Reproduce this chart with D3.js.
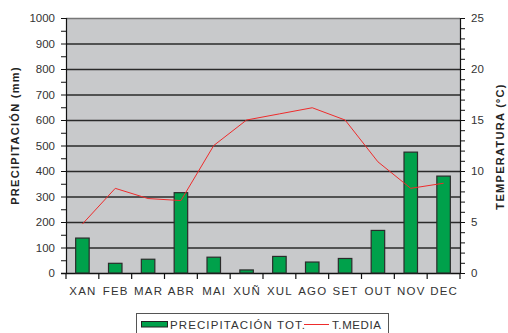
<!DOCTYPE html>
<html>
<head>
<meta charset="utf-8">
<script src="https://cdn.jsdelivr.net/npm/d3@7/dist/d3.min.js"></script>
<style>
  html, body { margin: 0; padding: 0; background: #fff; }
  svg { display: block; font-family: Arial, "Liberation Sans", sans-serif; }
</style>
</head>
<body>
<svg id="chart" width="508" height="333"></svg>
<script>
// Monthly climate data
const months = ["XAN","FEB","MAR","ABR","MAI","XUÑ","XUL","AGO","SET","OUT","NOV","DEC"];
const precipitation = [137, 38, 54, 315, 62, 12, 65, 43, 57, 167, 474, 380];
const temperature = [4.8, 8.3, 7.3, 7.1, 12.5, 15.0, 15.6, 16.2, 15.0, 10.9, 8.3, 8.8];
const precipTicks = [0,100,200,300,400,500,600,700,800,900,1000];
const tempTicks = [0,5,10,15,20,25];

(function () {
const svg = d3.select("#chart");
const mLeft = 66, mRight = 460, mTop = 18, mBottom = 273;

const x = d3.scaleBand().domain(months).range([mLeft, mRight]).paddingInner(0).paddingOuter(0);
const yP = d3.scaleLinear().domain([0, 1000]).range([mBottom, mTop]);
const yT = d3.scaleLinear().domain([0, 25]).range([mBottom, mTop]);

// plot background
svg.append("rect")
  .attr("x", mLeft).attr("y", mTop)
  .attr("width", mRight - mLeft).attr("height", mBottom - mTop)
  .attr("fill", "#c8c9cb");

// horizontal gridlines
svg.append("g").selectAll("line")
  .data(precipTicks.filter(d => d > 0))
  .join("line")
  .attr("x1", mLeft).attr("x2", mRight)
  .attr("y1", d => yP(d) + 0.5).attr("y2", d => yP(d) + 0.5)
  .attr("stroke", d => d === 1000 ? "#777" : "#2a2a2a")
  .attr("stroke-width", 1.3);

// left axis
const axL = svg.append("g").attr("transform", `translate(${mLeft},0)`)
  .call(d3.axisLeft(yP).tickValues(d3.range(0, 1001, 50)).tickSize(5).tickFormat(d => d % 100 === 0 ? d : ""));
axL.select(".domain").attr("stroke", "#111").attr("stroke-width", 1.2);
axL.selectAll(".tick line").attr("stroke", "#111");
axL.selectAll("text").attr("fill", "#333").attr("font-size", 11.5).attr("dx", "-3");

// right axis
const axR = svg.append("g").attr("transform", `translate(${mRight},0)`)
  .call(d3.axisRight(yT).tickValues(d3.range(0, 26, 1)).tickSize(5).tickFormat(d => tempTicks.includes(d) ? d : ""));
axR.select(".domain").attr("stroke", "#111").attr("stroke-width", 1.2);
axR.selectAll(".tick line").attr("stroke", "#111");
axR.selectAll("text").attr("fill", "#333").attr("font-size", 11.5).attr("dx", "3");

// bottom axis with ticks at category boundaries
const boundaries = months.map(m => x(m)).concat([mRight]);
svg.append("line")
  .attr("x1", mLeft - 5).attr("x2", mRight)
  .attr("y1", mBottom + 0.5).attr("y2", mBottom + 0.5)
  .attr("stroke", "#111").attr("stroke-width", 1.3);
svg.append("g").selectAll("line")
  .data(boundaries)
  .join("line")
  .attr("x1", d => d).attr("x2", d => d)
  .attr("y1", mBottom).attr("y2", mBottom + 6)
  .attr("stroke", "#111").attr("stroke-width", 1.2);
svg.append("g").selectAll("text")
  .data(months)
  .join("text")
  .attr("x", d => x(d) + x.bandwidth() / 2 + 0.5)
  .attr("y", 295)
  .attr("text-anchor", "middle")
  .attr("font-size", 11.5)
  .attr("letter-spacing", 1.2)
  .attr("fill", "#333")
  .text(d => d);

// precipitation bars
const barW = 13.5;
svg.append("g").selectAll("rect")
  .data(precipitation)
  .join("rect")
  .attr("x", (d, i) => x(months[i]) + x.bandwidth() / 2 - barW / 2)
  .attr("y", d => yP(d))
  .attr("width", barW)
  .attr("height", d => mBottom - yP(d))
  .attr("fill", "#00a14b")
  .attr("stroke", "#2b2b2b")
  .attr("stroke-width", 1.2);

// mean temperature line
const line = d3.line()
  .x((d, i) => x(months[i]) + x.bandwidth() / 2)
  .y(d => yT(d));
svg.append("path")
  .datum(temperature)
  .attr("d", line)
  .attr("fill", "none")
  .attr("stroke", "#ee2c2c")
  .attr("stroke-width", 1);

// axis titles
svg.append("text")
  .attr("transform", `translate(19,${(mTop + mBottom) / 2 - 10}) rotate(-90)`)
  .attr("text-anchor", "middle")
  .attr("font-size", 11)
  .attr("font-weight", "bold")
  .attr("letter-spacing", 1.3)
  .attr("fill", "#222")
  .text("PRECIPITACIÓN (mm)");
svg.append("text")
  .attr("transform", `translate(504,${(mTop + mBottom) / 2 + 1}) rotate(-90)`)
  .attr("text-anchor", "middle")
  .attr("font-size", 11)
  .attr("font-weight", "bold")
  .attr("letter-spacing", 1.3)
  .attr("fill", "#222")
  .text("TEMPERATURA (ºC)");

// legend
const lg = svg.append("g");
lg.append("rect")
  .attr("x", 136.5).attr("y", 313.5)
  .attr("width", 252).attr("height", 20)
  .attr("fill", "#fff").attr("stroke", "#555").attr("stroke-width", 1);
lg.append("rect")
  .attr("x", 141.5).attr("y", 321.5)
  .attr("width", 26).attr("height", 5.5)
  .attr("fill", "#00a14b").attr("stroke", "#222").attr("stroke-width", 1);
lg.append("text")
  .attr("x", 170).attr("y", 328.5)
  .attr("font-size", 11.5).attr("letter-spacing", 1.1).attr("fill", "#333")
  .text("PRECIPITACIÓN TOT.");
lg.append("line")
  .attr("x1", 304).attr("x2", 329)
  .attr("y1", 324.5).attr("y2", 324.5)
  .attr("stroke", "#ee2c2c").attr("stroke-width", 1);
lg.append("text")
  .attr("x", 332).attr("y", 328.5)
  .attr("font-size", 11.5).attr("letter-spacing", 0.6).attr("fill", "#333")
  .text("T.MEDIA");
})();
</script>
</body>
</html>
